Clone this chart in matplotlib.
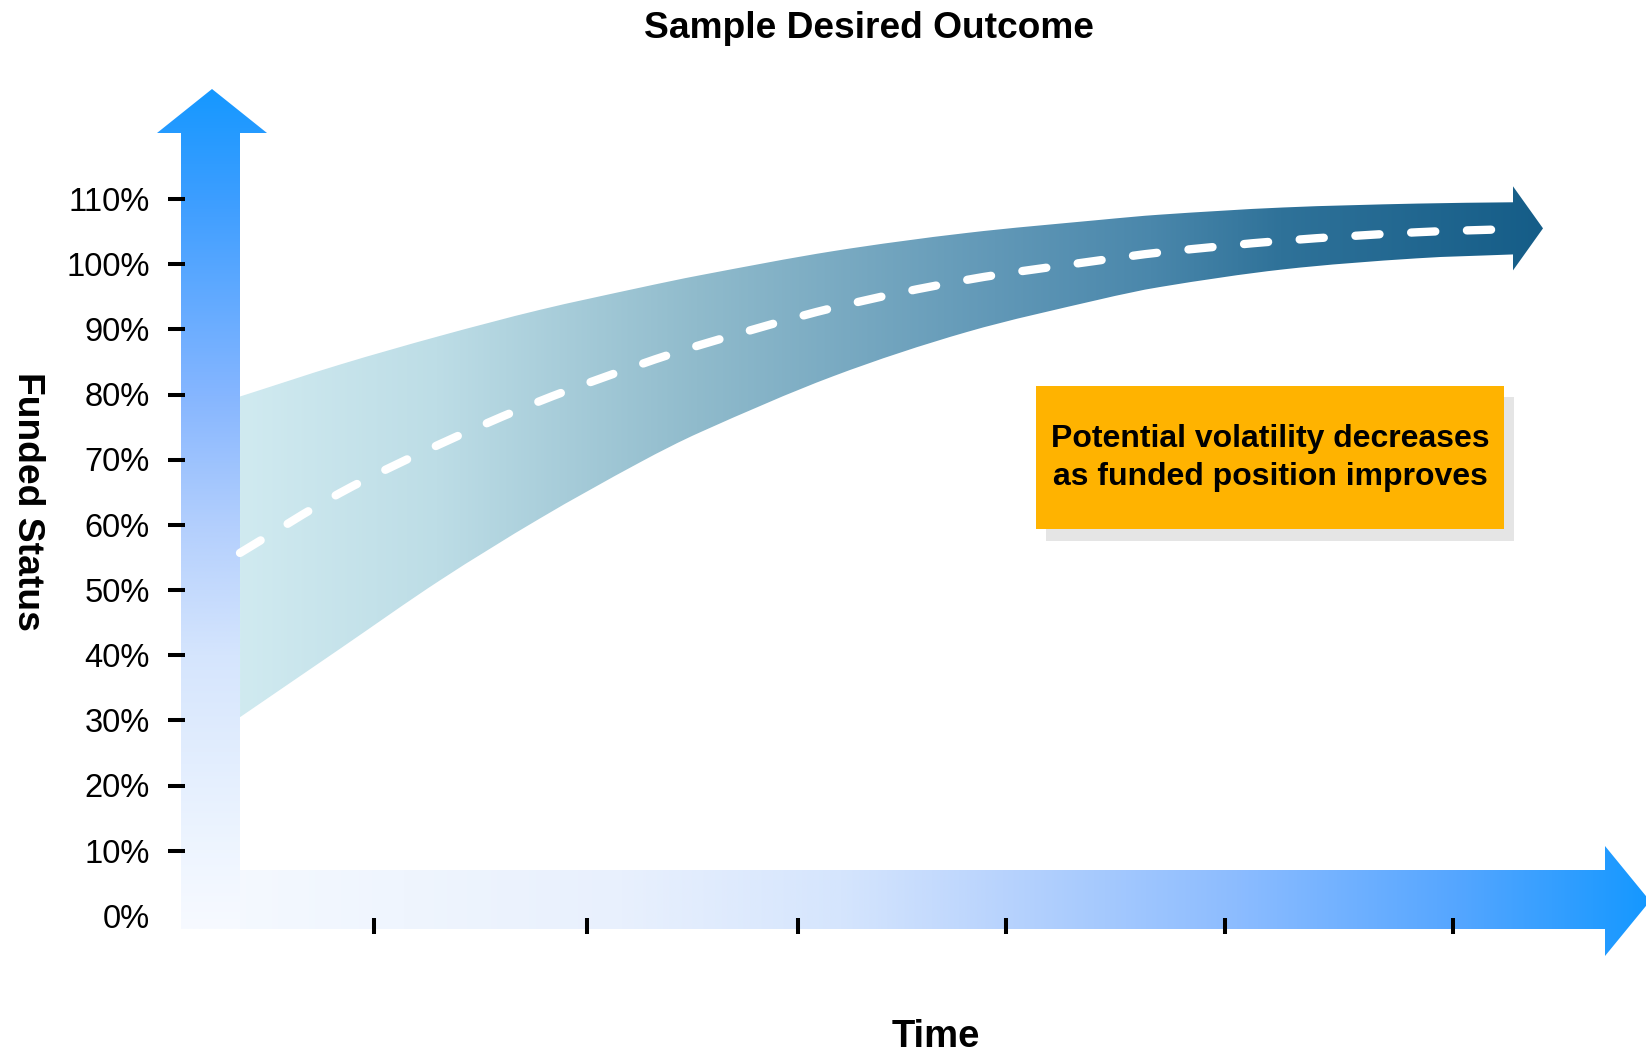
import numpy as np
import matplotlib.pyplot as plt
from matplotlib.colors import LinearSegmentedColormap
from matplotlib.patches import PathPatch, Rectangle
from matplotlib.path import Path

plt.rcParams['font.family'] = ['Liberation Sans', 'DejaVu Sans']

# funded status corridor over time (time in arbitrary units, status in %)
time = [0.0, 1.0, 2.0, 3.0, 4.0, 4.6, 5.93, 7.27, 8.6, 9.2, 10.43, 11.77, 12.73]
upper = [79.7, 84.6, 89.0, 93.0, 96.4, 98.3, 102.0, 104.8, 106.8, 107.6, 108.7, 109.3, 109.5]
lower = [30.5, 41.0, 51.5, 61.0, 69.6, 74.2, 82.8, 89.6, 94.6, 96.5, 99.2, 100.9, 101.5]
expected = [55.7, 64.9, 72.4, 79.0, 84.6, 87.6, 93.3, 97.6, 100.6, 101.8, 103.6, 104.9, 105.4]

y_ticks = [0, 10, 20, 30, 40, 50, 60, 70, 80, 90, 100, 110]
y_labels = ['%d%%' % v for v in y_ticks]
time_ticks = [1.34, 3.47, 5.58, 7.66, 9.85, 12.13]

note = 'Potential volatility decreases\nas funded position improves'

W, H = 1646, 1052
X0, PX_T = 240, 100.0
Y0, PX_PCT = 916, 6.518


def fx(px):
    return (px - X0) / PX_T


def fy(py):
    return (Y0 - py) / PX_PCT


def smooth(xs, ys):
    # cubic hermite bezier segments through the given points
    xs = np.asarray(xs, float)
    ys = np.asarray(ys, float)
    n = len(xs)
    m = np.empty(n)
    m[0] = (ys[1] - ys[0]) / (xs[1] - xs[0])
    m[-1] = (ys[-1] - ys[-2]) / (xs[-1] - xs[-2])
    m[1:-1] = (ys[2:] - ys[:-2]) / (xs[2:] - xs[:-2])
    verts = [(xs[0], ys[0])]
    codes = [Path.MOVETO]
    for i in range(n - 1):
        h = xs[i + 1] - xs[i]
        verts += [(xs[i] + h / 3, ys[i] + m[i] * h / 3),
                  (xs[i + 1] - h / 3, ys[i + 1] - m[i + 1] * h / 3),
                  (xs[i + 1], ys[i + 1])]
        codes += [Path.CURVE4] * 3
    return verts, codes


def gradient_fill(ax, path, colors, horizontal=True, zorder=1):
    patch = PathPatch(path, facecolor='none', edgecolor='none')
    ax.add_patch(patch)
    ext = path.get_extents()
    cmap = LinearSegmentedColormap.from_list('g', colors)
    grad = np.linspace(0, 1, 512)
    img = grad[None, :] if horizontal else grad[:, None]
    im = ax.imshow(img, cmap=cmap, extent=(ext.x0, ext.x1, ext.y0, ext.y1),
                   origin='lower', aspect='auto', zorder=zorder, interpolation='bicubic')
    im.set_clip_path(patch)
    return im


def px_path(pts):
    verts = [(fx(a), fy(b)) for a, b in pts]
    return Path(verts + [verts[0]], [Path.MOVETO] + [Path.LINETO] * (len(pts) - 1) + [Path.CLOSEPOLY])


fig = plt.figure(figsize=(W / 100, H / 100), dpi=100)
ax = fig.add_axes([0, 0, 1, 1])

# axis arrows
h_arrow = [(181, 870), (1605, 870), (1605, 846), (1650, 901), (1605, 956), (1605, 929), (181, 929)]
gradient_fill(ax, px_path(h_arrow),
              [(0, '#f6faff'), (0.3, '#e8f0fd'), (0.45, '#d5e5fd'), (0.56, '#b8d3fd'),
               (0.72, '#8cbcff'), (0.87, '#55a6ff'), (1, '#1598ff')], zorder=1)
v_arrow = [(181, 929), (240, 929), (240, 133), (267, 133), (212, 89), (157, 133), (181, 133)]
gradient_fill(ax, px_path(v_arrow),
              [(0, '#f7faff'), (0.093, '#eef5ff'), (0.326, '#d5e5fd'), (0.48, '#b3cffd'),
               (0.635, '#86b6ff'), (0.868, '#3d9eff'), (1, '#1698ff')], horizontal=False, zorder=2)

# corridor band ending in an arrow head
t_end = time[-1]
mid_end = (upper[-1] + lower[-1]) / 2
head_half = 6.45
uv, uc = smooth(time, upper)
lv, lc = smooth(time[::-1], lower[::-1])
head = [(t_end, mid_end + head_half), (t_end + 0.30, mid_end), (t_end, mid_end - head_half)]
band_verts = uv + head + lv + [uv[0]]
band_codes = uc + [Path.LINETO] * 3 + [Path.LINETO] + lc[1:] + [Path.CLOSEPOLY]
gradient_fill(ax, Path(band_verts, band_codes),
              [(0, '#d0eaf0'), (0.15, '#bddde6'), (0.35, '#90bbcc'), (0.58, '#6198b7'),
               (0.7, '#4a87ab'), (0.8, '#2f7299'), (1, '#155d88')], zorder=3)

ev, ec = smooth(time, expected)
ax.add_patch(PathPatch(Path(ev, ec), fill=False, edgecolor='white', lw=6,
                       linestyle=(0, (2.9, 3.8)), capstyle='round', joinstyle='round', zorder=4))

# ticks and labels
ax.hlines(y_ticks[1:], fx(168), fx(185), color='black', lw=2.9, zorder=5)
for v, lab in zip(y_ticks, y_labels):
    ax.text(fx(150), v - 0.5, lab, ha='right', va='center', fontsize=23.5, color='black')
ax.vlines(time_ticks, fy(934), fy(918), color='black', lw=2.9, zorder=5)

ax.text(fx(869), fy(29), 'Sample Desired Outcome', ha='center', va='center',
        fontsize=26.7, fontweight='bold')
ax.text(fx(936), fy(1037), 'Time', ha='center', va='center',
        fontsize=27.5, fontweight='bold')
ax.text(fx(28), fy(501), 'Funded Status', ha='center', va='center', rotation=270,
        fontsize=26.8, fontweight='bold')

# callout box
ax.add_patch(Rectangle((fx(1046), fy(541)), fx(1514) - fx(1046), fy(397) - fy(541),
                       facecolor='#e5e5e5', edgecolor='none', zorder=6))
ax.add_patch(Rectangle((fx(1036), fy(529)), fx(1504) - fx(1036), fy(386) - fy(529),
                       facecolor='#ffb300', edgecolor='none', zorder=7))
ax.text(fx(1270), fy(458), note, ha='center', va='center', fontsize=23,
        fontweight='bold', linespacing=1.35, zorder=8)

ax.set_xlim(fx(0), fx(W))
ax.set_ylim(fy(H), fy(0))
ax.axis('off')

fig.savefig('out.png', dpi=100)
